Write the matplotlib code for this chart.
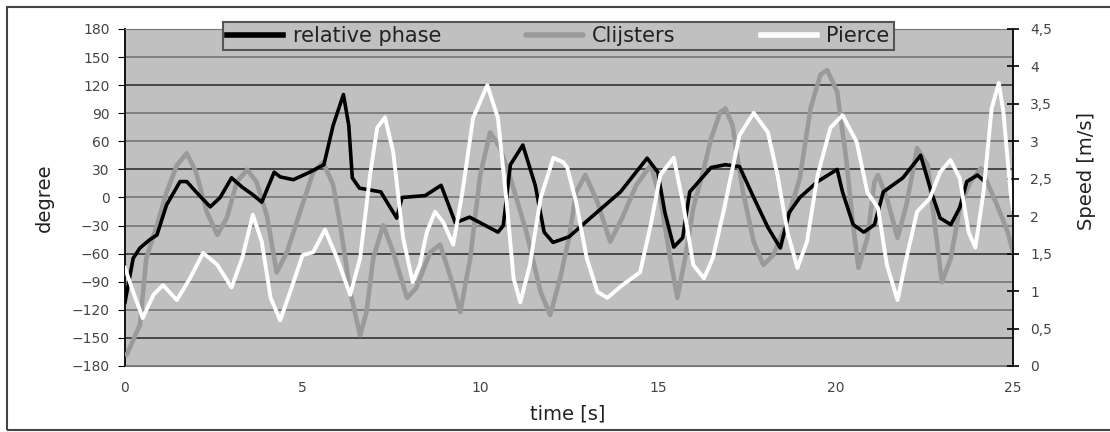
import matplotlib
matplotlib.use("Agg")
import matplotlib.pyplot as plt
from matplotlib.patches import Rectangle

# relative phase [degree]
phase_t = [0.0, 0.23, 0.42, 0.7, 0.9, 1.17, 1.55, 1.74, 2.0, 2.4, 2.68, 3.0, 3.3,
           3.6, 3.85, 4.2, 4.37, 4.74, 5.2, 5.6, 5.86, 6.15, 6.3, 6.4, 6.6, 7.2,
           7.65, 7.8, 8.45, 8.9, 9.3, 9.7, 10.5, 10.65, 10.85, 11.2, 11.55, 11.8,
           12.05, 12.5, 13.1, 13.95, 14.7, 15.0, 15.2, 15.45, 15.7, 15.9, 16.5,
           16.9, 17.3, 17.7, 18.1, 18.45, 18.7, 19.0, 19.5, 20.05, 20.2, 20.5,
           20.8, 21.1, 21.35, 21.9, 22.4, 22.7, 22.95, 23.25, 23.5, 23.7, 24.0, 24.2]
phase = [-112, -65, -54, -45, -40, -8, 17, 17, 6, -10, 0, 21, 11,
         3, -5, 27, 22, 19, 27, 35, 77, 110, 77, 21, 10, 6,
         -22, 0, 2, 13, -27, -21, -37, -30, 35, 56, 13, -37,
         -48, -42, -22, 6, 42, 27, -16, -53, -43, 6, 32,
         35, 33, 0, -32, -54, -16, 0, 17, 30, 6, -29,
         -37, -29, 6, 21, 45, 6, -22, -29, -11, 17, 24, 17]

# Clijsters speed [m/s]
clij_t = [0.05, 0.42, 0.6, 0.9, 1.17, 1.46, 1.74, 2.0, 2.3, 2.6, 2.87, 3.15, 3.44,
          3.7, 4.0, 4.27, 4.56, 4.93, 5.3, 5.58, 5.86, 6.06, 6.34, 6.62, 6.8, 6.99,
          7.27, 7.55, 7.94, 8.2, 8.45, 8.6, 8.87, 9.15, 9.44, 9.72, 10.0, 10.28,
          10.56, 10.85, 11.3, 11.7, 11.97, 12.25, 12.5, 12.7, 12.96, 13.3, 13.66,
          14.0, 14.4, 14.8, 15.07, 15.35, 15.55, 15.77, 16.0, 16.3, 16.5, 16.76,
          16.9, 17.1, 17.4, 17.7, 17.97, 18.25, 18.6, 19.0, 19.3, 19.58, 19.77,
          20.05, 20.3, 20.5, 20.65, 20.9, 21.1, 21.2, 21.45, 21.75, 22.0, 22.3,
          22.6, 22.8, 23.0, 23.25, 23.5, 23.8, 24.1, 24.55, 24.85, 25.0]
clij = [0.15, 0.55, 1.44, 1.88, 2.32, 2.68, 2.84, 2.59, 2.06, 1.75, 1.98, 2.46, 2.62,
        2.46, 2.0, 1.25, 1.52, 2.06, 2.59, 2.72, 2.42, 1.88, 0.99, 0.41, 0.72, 1.44,
        1.88, 1.52, 0.91, 1.04, 1.35, 1.52, 1.62, 1.21, 0.72, 1.44, 2.55, 3.12,
        2.91, 2.51, 1.79, 0.99, 0.68, 1.17, 1.71, 2.32, 2.55, 2.19, 1.66,
        1.98, 2.42, 2.68, 2.24, 1.44, 0.91, 1.44, 2.11, 2.64, 3.04, 3.39,
        3.44, 3.22, 2.32, 1.66, 1.35, 1.48, 1.88, 2.51, 3.44, 3.89, 3.95,
        3.66, 2.78, 1.88, 1.31, 1.71, 2.46, 2.55, 2.24, 1.71, 2.15, 2.91,
        2.68, 1.88, 1.12, 1.44, 2.11, 2.46, 2.64, 2.15, 1.79, 1.52]

# Pierce speed [m/s]
pierce_t = [0.0, 0.23, 0.5, 0.8, 1.07, 1.46, 1.83, 2.2, 2.6, 3.0, 3.3, 3.6, 3.85,
            4.1, 4.37, 4.65, 5.0, 5.3, 5.63, 5.97, 6.34, 6.62, 6.9, 7.1, 7.32,
            7.55, 7.83, 8.1, 8.3, 8.5, 8.73, 8.96, 9.24, 9.5, 9.8, 10.2, 10.5,
            10.76, 10.94, 11.13, 11.4, 11.7, 12.06, 12.34, 12.45, 12.7, 13.0,
            13.3, 13.58, 14.0, 14.5, 14.8, 15.07, 15.45, 15.72, 16.0, 16.3, 16.55,
            16.85, 17.0, 17.3, 17.7, 18.1, 18.37, 18.65, 18.93, 19.2, 19.5, 19.86,
            20.2, 20.6, 20.9, 21.2, 21.45, 21.75, 22.0, 22.3, 22.66, 22.95, 23.24,
            23.5, 23.75, 23.94, 24.17, 24.4, 24.6, 24.73, 24.93, 25.0]
pierce = [1.31, 0.99, 0.64, 0.95, 1.08, 0.88, 1.17, 1.51, 1.35, 1.05, 1.44, 2.02, 1.66,
          0.91, 0.61, 0.99, 1.48, 1.52, 1.82, 1.44, 0.95, 1.44, 2.55, 3.18, 3.32,
          2.86, 1.71, 1.12, 1.35, 1.79, 2.06, 1.92, 1.62, 2.32, 3.31, 3.75, 3.31,
          2.11, 1.17, 0.85, 1.35, 2.24, 2.78, 2.72, 2.65, 2.19, 1.44,
          0.99, 0.91, 1.08, 1.25, 1.88, 2.55, 2.78, 2.15, 1.35, 1.17, 1.44,
          2.06, 2.4, 3.08, 3.38, 3.12, 2.55, 1.79, 1.31, 1.66, 2.55, 3.18,
          3.35, 2.99, 2.32, 2.11, 1.35, 0.88, 1.44, 2.06, 2.24, 2.59, 2.75,
          2.51, 1.79, 1.58, 2.32, 3.44, 3.78, 3.39, 2.32, 2.1]

deg_ticks = list(range(-180, 181, 30))
speed_ticks = [0, 0.5, 1, 1.5, 2, 2.5, 3, 3.5, 4, 4.5]
speed_labels = ["0", "0,5", "1", "1,5", "2", "2,5", "3", "3,5", "4", "4,5"]
time_ticks = [0, 5, 10, 15, 20, 25]

plt.rcParams['font.family'] = ['DejaVu Sans']
txt = '#444444'

fig = plt.figure(figsize=(11.1, 4.32), dpi=100)
ax = fig.add_axes([0.1126, 0.1528, 0.8, 0.7801])
ax.set_facecolor('#c0c0c0')
ax.set_xlim(0, 25)
ax.set_ylim(-180, 180)
ax.set_yticks(deg_ticks)
ax.set_xticks(time_ticks)
ax.tick_params(axis='y', direction='out', length=5, pad=6, labelsize=10, labelcolor=txt)
ax.tick_params(axis='x', length=0, pad=11, labelsize=10, labelcolor=txt)
ax.grid(True, axis='y', color='#6e6e6e', linewidth=1.1)
for v, gl in zip(deg_ticks, ax.yaxis.get_gridlines()):
    if v in (120, 30, -60, -150):
        gl.set_color('#262626')
ax.set_axisbelow(True)
ax.spines['left'].set_color('#111111')
ax.spines['left'].set_linewidth(1.4)
ax.spines['bottom'].set_color('#777777')
ax.spines['top'].set_color('#777777')
ax.spines['right'].set_visible(False)
ax.set_ylabel('degree', fontsize=14, color='#222222')
ax.yaxis.set_label_coords(-0.08, 0.5)
ax.set_xlabel('time [s]', fontsize=14, color='#222222')
ax.xaxis.set_label_coords(0.499, -0.115)

ax2 = ax.twinx()
ax2.set_ylim(0, 4.5)
ax2.set_yticks(speed_ticks)
ax2.set_yticklabels(speed_labels)
ax2.tick_params(axis='y', direction='inout', length=9, width=1.2, pad=8,
                labelsize=10, labelcolor=txt)
ax2.spines['right'].set_color('#111111')
ax2.spines['right'].set_linewidth(1.4)
for s in ('left', 'top', 'bottom'):
    ax2.spines[s].set_visible(False)
ax2.set_ylabel('Speed [m/s]', fontsize=14, color='#222222')
ax2.yaxis.set_label_coords(1.072, 0.58)

l2, = ax2.plot(clij_t, clij, color='#9a9a9a', linewidth=3.3, label='Clijsters',
               solid_capstyle='round')
# phase drawn in the left axis' data coordinates but stacked between the speeds
l1, = ax2.plot(phase_t, phase, color='black', linewidth=2.6, label='relative phase',
               transform=ax.transData)
l3, = ax2.plot(pierce_t, pierce, color='white', linewidth=2.8, label='Pierce')

leg = fig.legend([l1, l2, l3], ['relative phase', 'Clijsters', 'Pierce'],
                 loc='upper center', bbox_to_anchor=(0.503, 0.949), ncol=3,
                 fontsize=15, frameon=True, fancybox=False, facecolor='#c0c0c0',
                 edgecolor='#555555', framealpha=1, handlelength=2.7,
                 handletextpad=0.45, columnspacing=4.1, borderpad=0.2,
                 borderaxespad=0)
leg.get_frame().set_linewidth(1.5)
for t in leg.get_texts():
    t.set_color('#222222')
for h in leg.legend_handles:
    h.set_linewidth(4)

fig.patches.append(Rectangle((0.0063, 0.004), 1.1, 0.98, transform=fig.transFigure,
                             fill=False, edgecolor='#444444', linewidth=1.5))

fig.savefig('out.png', dpi=100)
